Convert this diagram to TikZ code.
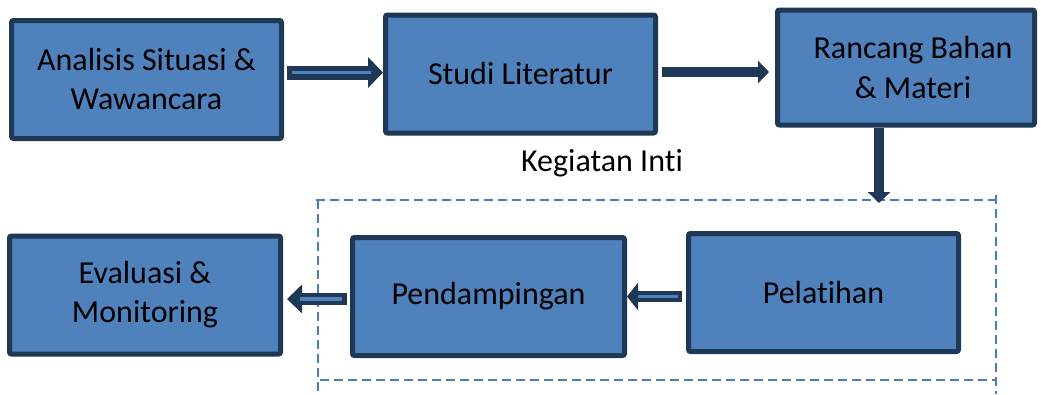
\documentclass[tikz,border=0pt]{standalone}
\usepackage{fontspec}
\setmainfont[Ligatures=NoCommon]{Carlito}
\usetikzlibrary{arrows.meta}
\definecolor{boxfill}{HTML}{4F81BD}
\definecolor{boxline}{HTML}{1F3856}
\definecolor{dashblue}{HTML}{4A7EBB}
\tikzset{
  procbox/.style={draw=boxline, fill=boxfill, line width=5pt, rounded corners=2pt,
    minimum width=270pt, minimum height=118pt, inner sep=0pt, align=center,
    font=\fontsize{32pt}{39pt}\selectfont, text=black},
  darrow/.style={draw=boxline, line width=14pt},
  innerline/.style={draw=boxfill, line width=3.5pt},
  solidarrow/.style={draw=boxline, line width=10pt},
  frame/.style={draw=dashblue, line width=2pt, dash pattern=on 9pt off 5pt},
  lbl/.style={font=\fontsize{32pt}{39pt}\selectfont, text=black, inner sep=0pt}
}
\begin{document}
\begin{tikzpicture}[x=1pt,y=-1pt]
\useasboundingbox (0,0) rectangle (1041,394);
% dashed frame
\draw[frame] (316,200) -- (997,200);
\draw[frame] (318,200) -- (318,394);
\draw[frame] (320,380) -- (997,380);
\draw[frame] (996,195) -- (996,394);
% boxes
\node[procbox] (b1) at (146.5,79.5) {Analisis Situasi \&\\Wawancara};
\node[procbox] (b2) at (520.5,74) {Studi Literatur};
\node[procbox, minimum width=257pt, minimum height=115pt] (b3) at (906,67.5) {\hspace*{14pt}Rancang Bahan\\[1pt]\hspace*{14pt}\& Materi};
\node[procbox] (b4) at (823.5,292.5) {Pelatihan};
\node[procbox, minimum width=272pt] (b5) at (488.5,296.5) {Pendampingan};
\node[procbox, minimum width=271pt] (b6) at (145,295) {Evaluasi \&\\Monitoring};
\node[lbl] (k) at (602,163) {Kegiatan Inti};
\coordinate (k3) at (879,203);
% arrow 1
\draw[darrow, -{Triangle[length=15pt,width=30pt]}, shorten <=3pt]
  ([yshift=7pt]b1.east) -- ([yshift=7pt]b1.east -| b2.west);
\draw[innerline, shorten <=8pt, shorten >=12pt]
  ([yshift=7pt]b1.east) -- ([yshift=7pt]b1.east -| b2.west);
% arrow 2
\draw[solidarrow, -{Triangle[length=11pt,width=22pt]}, shorten <=4pt, shorten >=6pt]
  ([yshift=2pt]b2.east) -- ([yshift=2pt]b2.east -| b3.west);
% arrow 3
\draw[solidarrow, -{Triangle[length=11pt,width=22pt]}]
  (b3.south -| k3) -- (k3);
% arrow 4
\draw[darrow, line width=12pt, -{Triangle[length=15pt,width=28pt]}, shorten <=3pt, shorten >=4pt]
  ([yshift=-2.5pt]b5.west) -- ([yshift=-2.5pt]b5.west -| b6.east);
\draw[innerline, shorten <=8pt, shorten >=17pt]
  ([yshift=-2.5pt]b5.west) -- ([yshift=-2.5pt]b5.west -| b6.east);
% arrow 5
\draw[darrow, line width=11pt, -{Triangle[length=11pt,width=27pt]}, shorten <=4pt, shorten >=0pt]
  ([yshift=-4pt]b4.west) -- ([yshift=-4pt]b4.west -| b5.east);
\draw[innerline, line width=3pt, shorten <=8pt, shorten >=11pt]
  ([yshift=-4pt]b4.west) -- ([yshift=-4pt]b4.west -| b5.east);
\end{tikzpicture}
\end{document}
